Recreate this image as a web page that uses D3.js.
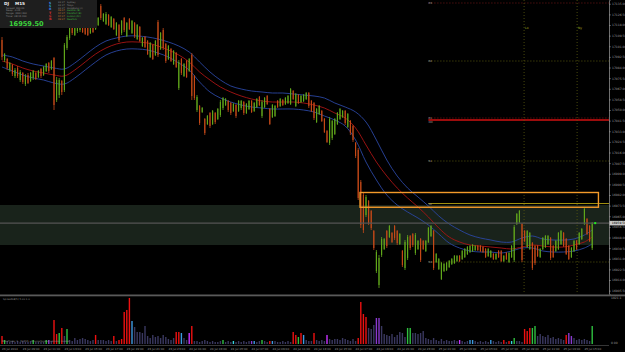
<!DOCTYPE html>
<html><head><meta charset="utf-8">
<script src="https://cdn.jsdelivr.net/npm/d3@7"></script>
<style>
html,body{margin:0;padding:0;background:#000;}
svg{display:block;}
text{font-family:"DejaVu Sans",sans-serif;}
</style></head><body>
<div id="chart"></div>
<script>
/* DJ M15 candles with envelope bands, pivot levels and volume pane. */

var open = [
  17106, 17090, 17090.8, 17082, 17086, 17077.2, 17083.6, 17074, 17079.6, 17070.8,
  17078, 17073.2, 17075.6, 17079.6, 17076.4, 17082.8, 17078, 17081.2, 17087.6, 17082.8,
  17091.6, 17058, 17062, 17073.2, 17066, 17099.6, 17107.6, 17118.8, 17110, 17113.2,
  17114, 17118, 17117.2, 17115.6, 17111.6, 17117.2, 17114.8, 17118, 17133.2, 17121.2,
  17118.8, 17126, 17116.4, 17122.8, 17110, 17118, 17111.6, 17123.6, 17109.2, 17122.8,
  17111.6, 17119.6, 17106.8, 17116.4, 17101.2, 17108.4, 17105.2, 17092.4, 17102, 17094,
  17120.4, 17098.8, 17114, 17102.8, 17090.8, 17098.8, 17086.8, 17095.6, 17067.6, 17090.8,
  17077.2, 17089.2, 17081.2, 17094, 17077.2, 17050, 17053.2, 17048.4, 17042.8, 17038.8,
  17047.6, 17038.8, 17047.6, 17042.8, 17046, 17051.6, 17054, 17057.2, 17055.6, 17049.2,
  17054, 17049.2, 17051.6, 17056.4, 17047.6, 17050.8, 17057.2, 17049.2, 17052.4, 17060.4,
  17045.2, 17052.4, 17061.2, 17050.8, 17044.4, 17045.2, 17057.2, 17053.2, 17058, 17054.8,
  17055.6, 17054.8, 17065.2, 17053.2, 17062, 17056.4, 17057.2, 17058.8, 17063.6, 17057.2,
  17055.6, 17040.4, 17046.8, 17049.2, 17042.8, 17033.2, 17023.6, 17027.6, 17030.8, 17038.8,
  17042.8, 17044.4, 17049.2, 17036.4, 17041.2, 17037.2, 17023.6, 17018, 16992.4, 16982,
  16966, 16977.2, 16969.2, 16953.2, 16921.2, 16910, 16934, 16938.8, 16953.2, 16948.4,
  16951.6, 16957.2, 16953.2, 16942.8, 16937.2, 16923.6, 16931.6, 16949.2, 16950.8, 16935.6,
  16938.8, 16946.8, 16945.2, 16937.2, 16944.4, 16949.2, 16953.2, 16928.4, 16922.8, 16914.8,
  16921.2, 16922, 16924.4, 16926.8, 16927.6, 16929.2, 16933.2, 16930.8, 16932.4, 16934.8,
  16936.4, 16937.2, 16938, 16941.2, 16941.2, 16940.4, 16938.8, 16933.2, 16932.4, 16934.8,
  16930.8, 16937.2, 16937.2, 16929.2, 16935.6, 16928.4, 16932.4, 16930, 16958.8, 16960.4,
  16958.8, 16953.2, 16940.4, 16938.8, 16943.6, 16941.2, 16941.2, 16932.4, 16938.8, 16940.4,
  16942.8, 16947.6, 16941.2, 16937.2, 16938.8, 16942.8, 16951.6, 16946.8, 16941.2, 16932.4,
  16937.2, 16945.2, 16942.8, 16946.8, 16958.8, 16962.8, 16957.2, 16939.6
];
var high = [
  17108.4, 17095.6, 17091.6, 17088.4, 17086.8, 17083.6, 17085.2, 17082, 17080.4, 17078.8,
  17079.6, 17080.4, 17082, 17080.4, 17082, 17083.6, 17085.2, 17087.6, 17088.4, 17090,
  17092.4, 17076.4, 17075.6, 17074, 17103.6, 17110, 17118, 17120.4, 17116.4, 17118.8,
  17120.4, 17118.8, 17118, 17116.4, 17118.8, 17118, 17122, 17124.4, 17134.8, 17127.6,
  17128.4, 17126.8, 17125.2, 17123.6, 17120.4, 17118.8, 17122, 17124.4, 17120.4, 17123.6,
  17122, 17120.4, 17118.8, 17117.2, 17108.4, 17109.2, 17106, 17104.4, 17102.8, 17106,
  17122, 17112.4, 17115.6, 17103.6, 17102, 17099.6, 17098, 17096.4, 17090, 17091.6,
  17087.6, 17090, 17091.6, 17095.6, 17078, 17062, 17054, 17052.4, 17043.6, 17046,
  17048.4, 17050, 17048.4, 17051.6, 17058, 17060.4, 17059.6, 17058, 17056.4, 17055.6,
  17054.8, 17058, 17058, 17057.2, 17055.6, 17058, 17058, 17056.4, 17059.6, 17061.2,
  17058, 17060.4, 17062, 17051.6, 17054.8, 17054, 17058, 17059.6, 17058.8, 17060.4,
  17062, 17067.6, 17066, 17063.6, 17062.8, 17062, 17062.8, 17064.4, 17064.4, 17058,
  17056.4, 17051.6, 17054, 17050, 17043.6, 17034, 17044.4, 17042, 17043.6, 17048.4,
  17051.6, 17050, 17050, 17047.6, 17042, 17038, 17024.4, 17019.6, 16994, 16983.6,
  16982, 16978, 16970, 16954, 16938, 16934, 16948.4, 16947.6, 16954, 16958,
  16952.4, 16958, 16954, 16951.6, 16938, 16946, 16950, 16950, 16951.6, 16951.6,
  16946, 16947.6, 16946, 16946, 16956.4, 16958, 16954, 16935.6, 16931.6, 16928.4,
  16927.6, 16928.4, 16930, 16931.6, 16934, 16934, 16934, 16938, 16939.6, 16941.2,
  16942, 16942.8, 16942, 16942, 16942, 16941.2, 16939.6, 16939.6, 16938, 16935.6,
  16935.6, 16938, 16938, 16934, 16936.4, 16936.4, 16942, 16958, 16967.6, 16970,
  16959.6, 16954, 16954, 16952.4, 16944.4, 16942, 16942, 16939.6, 16948.4, 16950,
  16950, 16948.4, 16942, 16946, 16952.4, 16954, 16952.4, 16947.6, 16942, 16940.4,
  16946, 16946, 16952.4, 16955.6, 16971.6, 16963.6, 16958, 16960.4
];
var low = [
  17090, 17088.4, 17082, 17080.4, 17077.2, 17075.6, 17075.6, 17072.4, 17070.8, 17069.2,
  17070.8, 17072.4, 17074, 17074, 17075.6, 17075.6, 17077.2, 17080.4, 17079.6, 17082,
  17050, 17056.4, 17059.6, 17062, 17064.4, 17098, 17106, 17110, 17109.2, 17111.6,
  17112.4, 17111.6, 17110, 17109.2, 17110.8, 17111.6, 17114, 17117.2, 17122, 17120.4,
  17118, 17117.2, 17115.6, 17114, 17109.2, 17104.4, 17110, 17112.4, 17108.4, 17114,
  17110.8, 17107.6, 17106, 17104.4, 17100.4, 17099.6, 17094, 17091.6, 17090, 17093.2,
  17092.4, 17098, 17098, 17087.6, 17090, 17088.4, 17086, 17083.6, 17066, 17078,
  17076.4, 17075.6, 17080.4, 17058, 17058, 17048.4, 17038, 17047.6, 17030, 17038,
  17035.6, 17038, 17038.8, 17042, 17044.4, 17050, 17053.2, 17048.4, 17046, 17048.4,
  17043.6, 17048.4, 17050, 17046, 17046.8, 17050, 17047.6, 17048.4, 17051.6, 17053.2,
  17043.6, 17051.6, 17054, 17038, 17043.6, 17044.4, 17051.6, 17052.4, 17053.2, 17054,
  17054.8, 17054, 17058, 17052.4, 17054.8, 17055.6, 17056.4, 17058, 17051.6, 17048.4,
  17042, 17039.6, 17046, 17040.4, 17031.6, 17023.6, 17022, 17026, 17030, 17038,
  17042, 17043.6, 17038, 17035.6, 17030, 17024.4, 17011.6, 16978, 16955.6, 16951.6,
  16964.4, 16958, 16954, 16938, 16919.6, 16907.6, 16932.4, 16938, 16939.6, 16947.6,
  16943.6, 16946, 16942, 16942, 16924.4, 16922, 16930, 16938, 16940.4, 16934,
  16938, 16928.4, 16938, 16936.4, 16943.6, 16948.4, 16922, 16927.6, 16922, 16914,
  16920.4, 16921.2, 16923.6, 16926, 16926.8, 16928.4, 16928.4, 16930, 16931.6, 16934,
  16935.6, 16936.4, 16937.2, 16937.2, 16936.4, 16935.6, 16931.6, 16932.4, 16931.6, 16930,
  16930, 16931.6, 16928.4, 16928.4, 16930, 16927.6, 16931.6, 16928.4, 16958, 16959.6,
  16928.4, 16944.4, 16939.6, 16938, 16922, 16926, 16932.4, 16931.6, 16938, 16939.6,
  16942, 16930, 16931.6, 16936.4, 16938, 16942, 16940.4, 16934, 16930, 16931.6,
  16936.4, 16938, 16942, 16946, 16958, 16950, 16944.4, 16938
];
var close = [
  17092.4, 17094.8, 17083.6, 17087.6, 17078.8, 17082, 17077.2, 17080.4, 17072.4, 17077.2,
  17071.6, 17079.6, 17081.2, 17074.8, 17081.2, 17077.2, 17084.4, 17086.8, 17081.2, 17089.2,
  17054, 17074, 17074, 17064.4, 17102, 17108.4, 17116.4, 17111.6, 17115.6, 17118,
  17119.6, 17112.4, 17110.8, 17110, 17118, 17112.4, 17121.2, 17123.6, 17123.6, 17126.8,
  17126.8, 17118, 17124.4, 17114.8, 17119.6, 17106, 17121.2, 17114, 17119.6, 17114.8,
  17121.2, 17109.2, 17118, 17105.2, 17107.6, 17100.4, 17094.8, 17103.6, 17090.8, 17105.2,
  17094, 17111.6, 17099.6, 17089.2, 17101.2, 17089.2, 17097.2, 17084.4, 17088.4, 17079.6,
  17086.8, 17076.4, 17090.8, 17061.2, 17059.6, 17060.4, 17039.6, 17051.6, 17031.6, 17045.2,
  17037.2, 17049.2, 17040.4, 17050.8, 17056.4, 17059.6, 17058.8, 17050, 17047.6, 17054.8,
  17045.2, 17057.2, 17057.2, 17047.6, 17054.8, 17057.2, 17048.4, 17055.6, 17058.8, 17054,
  17056.4, 17059.6, 17054.8, 17038.8, 17054, 17053.2, 17052.4, 17058.8, 17054, 17059.6,
  17061.2, 17066.8, 17058.8, 17062.8, 17055.6, 17061.2, 17062, 17063.6, 17053.2, 17049.2,
  17043.6, 17050.8, 17053.2, 17041.2, 17032.4, 17024.4, 17042.8, 17041.2, 17042.8, 17047.6,
  17050.8, 17049.2, 17039.6, 17046.8, 17031.6, 17026, 17013.2, 16979.6, 16958, 16954,
  16980.4, 16959.6, 16955.6, 16939.6, 16936.4, 16931.6, 16946.8, 16946.8, 16941.2, 16957.2,
  16944.4, 16947.6, 16943.6, 16950.8, 16926, 16944.4, 16948.4, 16939.6, 16942, 16950,
  16945.2, 16930, 16938.8, 16945.2, 16955.6, 16957.2, 16923.6, 16934.8, 16930.8, 16927.6,
  16926.8, 16927.6, 16929.2, 16930.8, 16933.2, 16933.2, 16929.2, 16937.2, 16938.8, 16940.4,
  16941.2, 16942, 16941.2, 16938, 16937.2, 16936.4, 16932.4, 16938.8, 16937.2, 16930.8,
  16934.8, 16932.4, 16929.2, 16933.2, 16930.8, 16935.6, 16941.2, 16956.4, 16966.8, 16969.2,
  16930, 16945.2, 16953.2, 16951.6, 16923.6, 16927.6, 16933.2, 16938.8, 16947.6, 16949.2,
  16949.2, 16931.6, 16932.4, 16945.2, 16951.6, 16953.2, 16941.2, 16934.8, 16930.8, 16939.6,
  16945.2, 16938.8, 16951.6, 16954.8, 16970.8, 16950.8, 16945.2, 16959.5
];

// envelope bands, one reading every 4 bars (last one on the final bar)
var bandBars = [0, 4, 8, 12, 16, 20, 24, 28, 32, 36, 40, 44, 48, 52, 56, 60, 64, 68, 72, 76,
  80, 84, 88, 92, 96, 100, 104, 108, 112, 116, 120, 124, 128, 132, 136, 140, 144, 148, 152, 156,
  160, 164, 168, 172, 176, 180, 184, 188, 192, 196, 200, 204, 208, 212, 216, 220, 224, 227];
var bandUpper = [17094, 17092.4, 17089.2, 17086.8, 17085.2, 17083.6, 17082.8, 17087.6, 17094, 17100.4,
  17105.2, 17107.6, 17109.2, 17109.2, 17108.4, 17106.8, 17104.4, 17101.2, 17096.4, 17088.4,
  17080.4, 17074, 17069.2, 17066.8, 17065.2, 17064.4, 17063.6, 17063.6, 17062.8, 17062,
  17061.2, 17059.6, 17055.6, 17052.4, 17048.4, 17040.4, 17026, 17010, 16997.2, 16987.6,
  16980.4, 16973.2, 16965.2, 16958.8, 16954, 16950, 16947.6, 16946, 16944.4, 16944.4,
  16947.6, 16949.2, 16946.8, 16946, 16946, 16946.8, 16950, 16954];
var bandMid = [17089.2, 17086.8, 17083.6, 17081.2, 17079.6, 17078, 17077.2, 17082, 17088.4, 17094.8,
  17099.6, 17102.8, 17104.4, 17104.4, 17103.6, 17101.2, 17098, 17094, 17088.4, 17080.4,
  17074, 17068.4, 17064.4, 17061.2, 17058.8, 17057.2, 17056.4, 17056.4, 17056.4, 17055.6,
  17054, 17051.6, 17047.6, 17043.6, 17035.6, 17022, 17008.4, 16997.2, 16987.6, 16979.6,
  16972.4, 16964.4, 16955.6, 16948.4, 16944.4, 16942, 16941.2, 16940.4, 16939.6, 16938.8,
  16940.4, 16942, 16941.2, 16940.4, 16940.4, 16942, 16944.4, 16948.4];
var bandLower = [17084.4, 17081.2, 17078, 17075.6, 17074, 17071.6, 17070.8, 17075.6, 17082, 17088.4,
  17094, 17097.2, 17098.8, 17098.8, 17098, 17095.6, 17092.4, 17087.6, 17082, 17072.4,
  17064.4, 17059.6, 17056.4, 17054, 17052.4, 17051.6, 17050.8, 17050.8, 17050.8, 17050,
  17048.4, 17045.2, 17042, 17037.2, 17026, 17008.4, 16994, 16982, 16974, 16968.4,
  16963.6, 16958, 16950.8, 16943.6, 16939.6, 16937.2, 16936.4, 16936.4, 16935.6, 16937.2,
  16939.6, 16939.6, 16937.2, 16936.4, 16936.4, 16937.2, 16939.6, 16942.8];

var volume = [
  174, 87, 65, 43, 65, 43, 65, 43, 65, 43,
  43, 65, 87, 43, 43, 43, 43, 87, 87, 65,
  521, 217, 239, 348, 174, 326, 87, 65, 130, 87,
  109, 130, 109, 87, 65, 87, 196, 87, 87, 87,
  65, 87, 65, 174, 65, 87, 109, 695, 739, 1000,
  500, 369, 261, 261, 239, 391, 174, 130, 196, 152,
  174, 130, 196, 152, 109, 87, 130, 261, 261, 239,
  130, 87, 239, 391, 65, 65, 43, 65, 87, 65,
  43, 65, 43, 43, 65, 87, 43, 65, 43, 65,
  43, 65, 43, 65, 43, 65, 65, 65, 43, 65,
  87, 65, 43, 65, 65, 65, 43, 43, 65, 43,
  65, 43, 261, 196, 152, 239, 196, 87, 65, 65,
  239, 87, 65, 87, 65, 196, 109, 87, 109, 109,
  87, 130, 109, 87, 65, 109, 65, 130, 913, 652,
  587, 348, 326, 413, 565, 565, 391, 217, 196, 174,
  217, 152, 196, 261, 239, 152, 348, 348, 239, 239,
  217, 239, 282, 130, 109, 87, 130, 87, 65, 109,
  65, 87, 65, 65, 87, 65, 87, 65, 43, 65,
  87, 87, 65, 43, 65, 43, 65, 43, 87, 65,
  43, 65, 43, 87, 43, 65, 65, 130, 65, 65,
  43, 326, 282, 348, 348, 391, 174, 217, 174, 152,
  196, 130, 152, 109, 130, 109, 87, 196, 239, 174,
  130, 87, 109, 87, 109, 87, 65, 391
];
// volume colour class per bar
var volKind = ("rGgggggggg" + "ggGggggGpg" + "rrGrgGgggg" + "ggggggrggg" + "gggrgrrrrr" +
  "bggggggggg" + "gggggggrrb" + "ggmrgggggg" + "gggggGgggc" + "ggggggpbgg" +
  "Gggrbggggg" + "ggrrGrbggg" + "rggggmgggg" + "gggggggrrr" + "rgggppgggg" +
  "ggggggGGgg" + "gggggggggg" + "ggggggmggg" + "bbggggggbg" + "gggrgrcGgg" +
  "grrrGGgggg" + "gggggggrpp" + "gggggggG").split("");

var priceTicks = [17135.00, 17126.50, 17118.00, 17109.50, 17101.00, 17092.50, 17084.00, 17075.50,
  17067.00, 17058.50, 17050.00, 17041.50, 17033.00, 17024.50, 17016.00, 17007.50, 16999.00,
  16990.50, 16982.00, 16973.50, 16965.00, 16956.50, 16948.00, 16939.50, 16931.00, 16922.50,
  16914.00, 16905.50];

var timeBars = [0, 8, 16, 24, 32, 40, 48, 56, 64, 72, 80, 88, 96, 104, 112, 120, 128, 136,
  144, 152, 160, 168, 176, 184, 192, 200, 208, 216, 224];
var timeLabels = ["23 Jul 2014", "23 Jul 09:00", "23 Jul 11:00", "23 Jul 13:00", "23 Jul 15:00",
  "23 Jul 17:00", "23 Jul 19:00", "23 Jul 21:00", "23 Jul 23:00", "24 Jul 01:00", "24 Jul 03:00",
  "24 Jul 05:00", "24 Jul 07:00", "24 Jul 09:00", "24 Jul 11:00", "24 Jul 13:00", "24 Jul 15:00",
  "24 Jul 17:00", "24 Jul 19:00", "24 Jul 21:00", "24 Jul 23:00", "25 Jul 01:00", "25 Jul 03:00",
  "25 Jul 05:00", "25 Jul 07:00", "25 Jul 09:00", "25 Jul 11:00", "25 Jul 13:00", "25 Jul 15:00"];

// pivot levels drawn from the start of the current day
var pivotNames = ["R3", "R2", "R1", "DO", "S1", "S2", "S3"];
var pivotValues = [17135.6, 17089.2, 17043.6, 17042, 17009.2, 16975.2, 16928.4];
var pivotStartBar = 164;
var sessionBars = [200.8, 221.2];
var sessionNames = ["Lo", "Ny"];

var lastPrice = 16959.5;
var zoneLow = 16942, zoneHigh = 16974;
var boxLow = 16972.2, boxHigh = 16984, boxFrom = 137.7, boxTo = 229.4;
var volMax = 1021.1;

var sessions = ["Sydney", "Tokyo", "HongKong (c)", "Helsinki (B)", "Frankfurt (B)", "London (Gr)", "NewYork"];
var sessionTimes = ["22:17", "22:17", "22:17", "09:17", "04:17", "04:17", "09:17"];
var infoRows = ["Spread:   300.00", "Swap:  -0.05", "Range:  (300) 300", "Timer:  08:15 200"];

function render(el) {
  var d3 = window.d3;
  var width = 625, height = 352;
  var axisX = 609, priceBottom = 294;

  var svg = d3.select(el).append("svg")
    .attr("width", width).attr("height", height)
    .style("background", "#000");

  var x = d3.scaleLinear().domain([0, open.length - 1]).range([2, 592.2]);
  var y = d3.scaleLinear().domain([16902.8, 17138]).range([priceBottom, 0]);
  var yv = d3.scaleLinear().domain([0, volMax]).range([344, 297]);

  svg.append("defs").append("clipPath").attr("id", "pc")
    .append("rect").attr("width", axisX).attr("height", priceBottom);
  var g = svg.append("g").attr("clip-path", "url(#pc)");

  // shaded zone
  g.append("rect").attr("x", 0).attr("width", axisX)
    .attr("y", y(zoneHigh)).attr("height", y(zoneLow) - y(zoneHigh))
    .attr("fill", "#19231b");

  // pivot levels
  var pivColors = ["#8a1a1a", "#6b6b10", "#a01818", "#d01010", "#6b6b10", "#c8b414", "#6b6b10"];
  var pivDash = ["1,2", "1,2", "1,2", null, "1,2", null, "1,2"];
  pivotValues.forEach(function (v, k) {
    g.append("line").attr("x1", x(pivotStartBar)).attr("x2", axisX)
      .attr("y1", y(v)).attr("y2", y(v))
      .attr("stroke", pivColors[k]).attr("stroke-width", k === 3 ? 1.3 : 0.8)
      .attr("stroke-dasharray", pivDash[k]);
    g.append("text").attr("x", x(pivotStartBar)).attr("y", y(v) + (k === 3 ? 3.2 : 1))
      .attr("font-size", 2.8).attr("fill", "#9a9a9a").text(pivotNames[k]);
  });

  // session verticals
  sessionBars.forEach(function (b, k) {
    g.append("line").attr("x1", x(b)).attr("x2", x(b)).attr("y1", 0).attr("y2", priceBottom)
      .attr("stroke", "#5a5a10").attr("stroke-width", 0.8).attr("stroke-dasharray", "1,2");
    g.append("text").attr("x", x(b) + 1).attr("y", 29).attr("font-size", 3)
      .attr("fill", "#b8b820").text(sessionNames[k]);
  });

  // bands
  function band(vals, color) {
    var line = d3.line()
      .x(function (d, k) { return x(bandBars[k]); })
      .y(function (d) { return y(d); })
      .curve(d3.curveCatmullRom);
    g.append("path").datum(vals).attr("d", line)
      .attr("fill", "none").attr("stroke", color).attr("stroke-width", 0.9);
  }
  band(bandUpper, "#2a46a2");
  band(bandLower, "#2a46a2");
  band(bandMid, "#a81414");

  // candles
  var up = "#62a81c", dn = "#c84a18";
  open.forEach(function (o, i) {
    var c = close[i], col = c >= o ? up : dn;
    g.append("line").attr("x1", x(i)).attr("x2", x(i))
      .attr("y1", y(high[i])).attr("y2", y(low[i]))
      .attr("stroke", col).attr("stroke-width", 0.8);
    g.append("rect").attr("x", x(i) - 0.55).attr("width", 1.1)
      .attr("y", y(Math.max(o, c))).attr("height", Math.max(0.6, Math.abs(y(o) - y(c))))
      .attr("fill", col);
  });

  // orange box
  g.append("rect").attr("x", x(boxFrom)).attr("width", x(boxTo) - x(boxFrom))
    .attr("y", y(boxHigh)).attr("height", y(boxLow) - y(boxHigh))
    .attr("fill", "none").attr("stroke", "#f39a2a").attr("stroke-width", 1.4);

  // last price line + marker
  g.append("line").attr("x1", 0).attr("x2", axisX).attr("y1", y(lastPrice)).attr("y2", y(lastPrice))
    .attr("stroke", "#555").attr("stroke-width", 1.4);
  g.append("rect").attr("x", x(open.length - 1) + 2).attr("y", y(lastPrice) - 1)
    .attr("width", 2).attr("height", 2).attr("fill", "#22ee22");

  // info panel
  var p = svg.append("g");
  p.append("rect").attr("width", 97).attr("height", 28).attr("fill", "#1e1e1e");
  p.append("text").attr("x", 4).attr("y", 5).attr("font-size", 4.2).attr("font-weight", "bold")
    .attr("fill", "#f0f0f0").text("DJ");
  p.append("text").attr("x", 15).attr("y", 5).attr("font-size", 4.2).attr("font-weight", "bold")
    .attr("fill", "#f0f0f0").text("M15");
  infoRows.forEach(function (t, k) {
    p.append("text").attr("x", 6).attr("y", 8.5 + k * 2.8).attr("font-size", 2.4)
      .attr("fill", "#8c8c8c").text(t);
  });
  p.append("text").attr("x", 9).attr("y", 26).attr("font-size", 6.6).attr("font-weight", "bold")
    .attr("fill", "#3bd23b").text(d3.format(".2f")(lastPrice));
  var glyphs = ["$", "S", "B", "T", "C", "R"];
  var glyphCols = ["#3a8ee6", "#20a0c0", "#3a7ae6", "#e03030", "#e03030", "#e03030"];
  glyphs.forEach(function (t, k) {
    p.append("text").attr("x", 49).attr("y", 4 + k * 3.2).attr("font-size", 3.2)
      .attr("font-weight", "bold").attr("fill", glyphCols[k]).text(t);
  });
  sessions.forEach(function (t, k) {
    p.append("text").attr("x", 58).attr("y", 3 + k * 2.75).attr("font-size", 2.3)
      .attr("fill", k < 3 ? "#8a8a8a" : "#d08030").text(sessionTimes[k]);
    p.append("text").attr("x", 67).attr("y", 3 + k * 2.75).attr("font-size", 2.3)
      .attr("fill", k < 3 ? "#8a8a8a" : "#3cb43c").text(t);
  });

  // price axis
  svg.append("rect").attr("x", axisX).attr("y", 0).attr("width", width - axisX).attr("height", height)
    .attr("fill", "#000");
  var ax = svg.append("g").attr("transform", "translate(" + axisX + ",0)")
    .call(d3.axisRight(y).tickValues(priceTicks).tickSize(1.5).tickPadding(1.5)
      .tickFormat(d3.format(".2f")));
  ax.select(".domain").attr("stroke", "#8a8a8a").attr("stroke-width", 0.8);
  ax.selectAll(".tick line").attr("stroke", "#8a8a8a");
  ax.selectAll(".tick text").attr("fill", "#9a9a9a").attr("font-size", 3)
    .attr("font-family", "DejaVu Sans");
  var lp = svg.append("g").attr("transform", "translate(" + axisX + "," + y(lastPrice) + ")");
  lp.append("rect").attr("x", 0.5).attr("y", -2.3).attr("width", 15.5).attr("height", 4.6).attr("fill", "#c8c8c8");
  lp.append("text").attr("x", 2.8).attr("y", 1.1).attr("font-size", 3).attr("fill", "#000")
    .text(d3.format(".2f")(lastPrice));

  // separator
  svg.append("rect").attr("x", 0).attr("y", 294.5).attr("width", width).attr("height", 1.8).attr("fill", "#5a5a5a");

  // volume
  var vColors = { g: "#3a3860", r: "#ee1010", G: "#2fc040", b: "#3c9ae0", m: "#c834ff", p: "#8a3ad0", c: "#38d4e0" };
  var vg = svg.append("g");
  volume.forEach(function (v, i) {
    vg.append("rect").attr("x", x(i) - 0.7).attr("width", 1.4)
      .attr("y", yv(v)).attr("height", yv(0) - yv(v))
      .attr("fill", vColors[volKind[i]]);
  });
  vg.append("text").attr("x", 3).attr("y", 299.5).attr("font-size", 2.5).attr("fill", "#8a8a8a")
    .text("SpreadSB(5)   5.00  1.0");
  vg.append("text").attr("x", 2).attr("y", 342).attr("font-size", 2.4).attr("fill", "#8a8a8a")
    .text("MetaTrader 4 - DJ,M15 - Volume/Spread indicator loaded");
  svg.append("text").attr("x", axisX + 2).attr("y", 299).attr("font-size", 3).attr("fill", "#9a9a9a")
    .text(d3.format(".1f")(volMax));
  svg.append("text").attr("x", axisX + 2).attr("y", 344).attr("font-size", 3).attr("fill", "#9a9a9a")
    .text("0.00");

  // time axis
  svg.append("line").attr("x1", 0).attr("x2", axisX).attr("y1", 345.5).attr("y2", 345.5)
    .attr("stroke", "#5a5a5a").attr("stroke-width", 0.6);
  timeBars.forEach(function (b, k) {
    svg.append("text").attr("x", x(b)).attr("y", 350).attr("font-size", 2.8)
      .attr("fill", "#9a9a9a").text(timeLabels[k]);
  });
}

render(document.getElementById("chart"));
</script>
</body></html>
